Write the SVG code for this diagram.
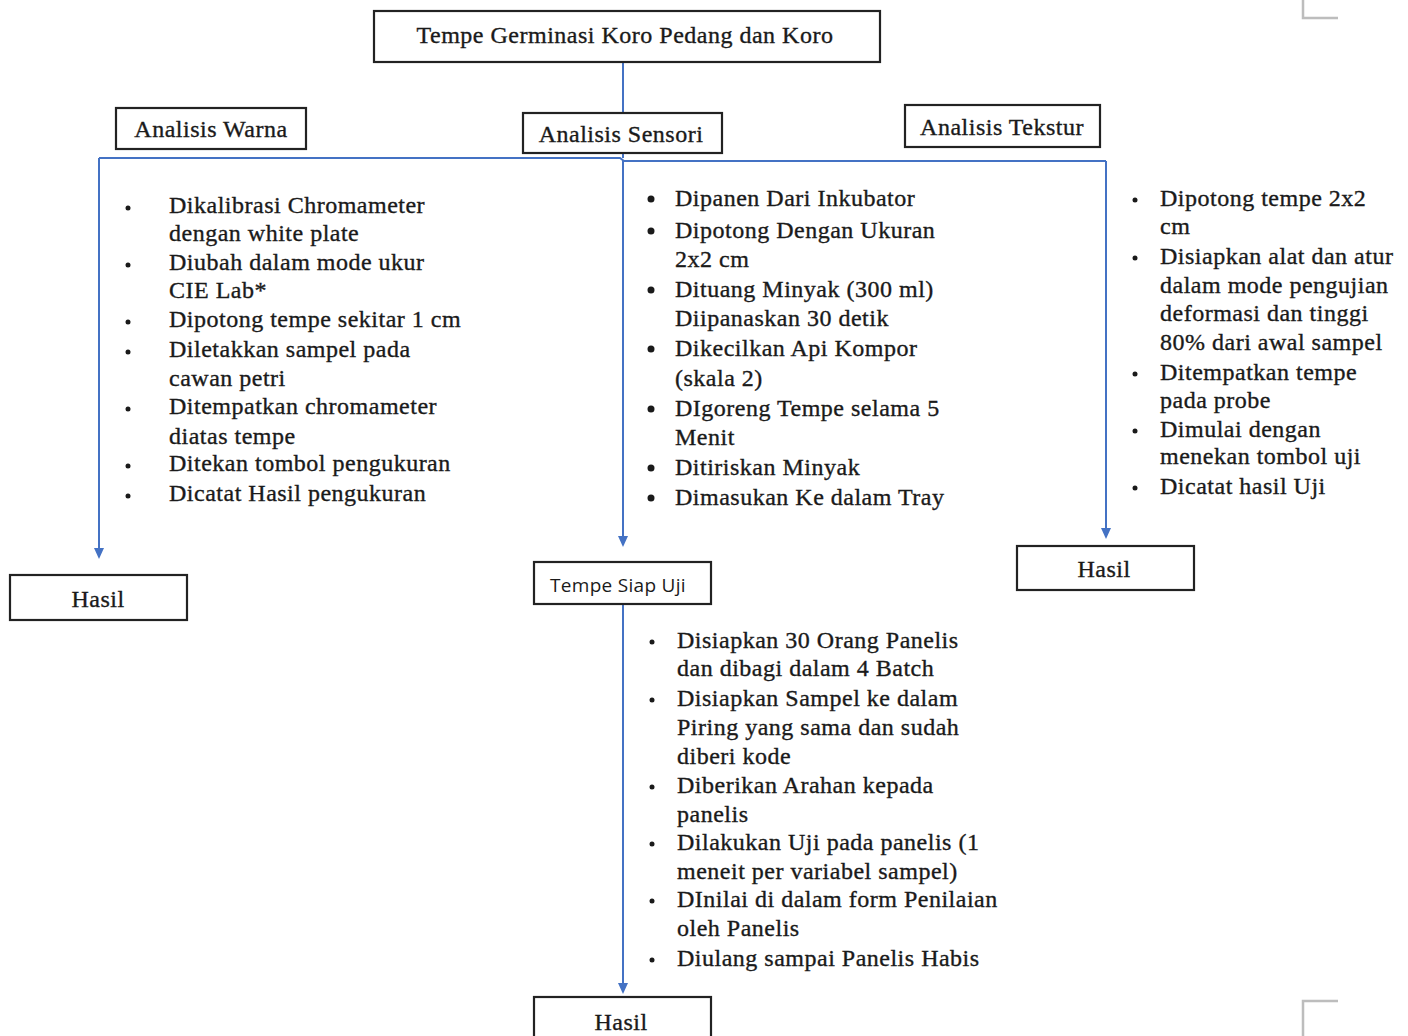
<svg xmlns="http://www.w3.org/2000/svg" width="1408" height="1036" viewBox="0 0 1408 1036">
<style>
.box{fill:#fff;stroke:#222;stroke-width:2.2}
.t{font-family:"Liberation Serif","Times New Roman",serif;font-size:24px;letter-spacing:0.5px;fill:#1a1a1a;stroke:#1a1a1a;stroke-width:0.35}
.lbl{font-family:"Liberation Serif","Times New Roman",serif;font-size:24px;letter-spacing:0.5px;fill:#1a1a1a;stroke:#1a1a1a;stroke-width:0.35;text-anchor:middle}
.sans{font-family:"Open Sans","Noto Sans",sans-serif;font-size:19px;letter-spacing:0.3px;fill:#1a1a1a;text-anchor:middle}
.con{stroke:#4472C4;stroke-width:2;fill:none}
.b{fill:#1a1a1a}
.corner{stroke:#bdbdbd;stroke-width:2.5;fill:none}
</style>
<rect width="1408" height="1036" fill="#fff"/>
<path class="corner" d="M1303,0 V18 H1338"/>
<path class="corner" d="M1303,1036 V1001 H1338"/>
<g id="connectors">
<path class="con" d="M623,62 V158"/>
<path class="con" d="M99,158 H620 L624,161 H1106"/>
<path class="con" d="M99,158 V550"/>
<path class="con" d="M623,160 V538"/>
<path class="con" d="M1106,161 V530"/>
<path class="con" d="M623,604 V985"/>
<path d="M94,548 H104 L99,559 Z" fill="#4472C4"/>
<path d="M618,536 H628 L623,547 Z" fill="#4472C4"/>
<path d="M1101,528 H1111 L1106,539 Z" fill="#4472C4"/>
<path d="M618,983 H628 L623,994 Z" fill="#4472C4"/>
</g>
<g id="node-top">
<rect class="box" x="374" y="11" width="506" height="51"/>
<text class="lbl" x="625" y="43">Tempe Germinasi Koro Pedang dan Koro</text>
</g>
<g id="node-warna">
<rect class="box" x="116" y="108" width="190" height="41"/>
<text class="lbl" x="211" y="137">Analisis Warna</text>
</g>
<g id="node-sensori">
<rect class="box" x="523" y="113" width="199" height="40"/>
<text class="lbl" x="621" y="142">Analisis Sensori</text>
</g>
<g id="node-tekstur">
<rect class="box" x="905" y="105" width="195" height="42"/>
<text class="lbl" x="1002" y="135">Analisis Tekstur</text>
</g>
<g id="node-hasil-left">
<rect class="box" x="10" y="575" width="177" height="45"/>
<text class="lbl" x="98" y="607">Hasil</text>
</g>
<g id="node-siap">
<rect class="box" x="534" y="562" width="177" height="42"/>
<text class="sans" x="618" y="592">Tempe Siap Uji</text>
</g>
<g id="node-hasil-right">
<rect class="box" x="1017" y="546" width="177" height="44"/>
<text class="lbl" x="1104" y="577">Hasil</text>
</g>
<g id="node-hasil-bottom">
<rect class="box" x="534" y="997" width="177" height="45"/>
<text class="lbl" x="621" y="1030">Hasil</text>
</g>
<g id="list-warna">
<circle class="b" cx="128" cy="208" r="2.5"/>
<circle class="b" cx="128" cy="265" r="2.5"/>
<circle class="b" cx="128" cy="322" r="2.5"/>
<circle class="b" cx="128" cy="352" r="2.5"/>
<circle class="b" cx="128" cy="409" r="2.5"/>
<circle class="b" cx="128" cy="466" r="2.5"/>
<circle class="b" cx="128" cy="496" r="2.5"/>
<text class="t" x="169" y="213">Dikalibrasi Chromameter</text>
<text class="t" x="169" y="241">dengan white plate</text>
<text class="t" x="169" y="270">Diubah dalam mode ukur</text>
<text class="t" x="169" y="298">CIE Lab*</text>
<text class="t" x="169" y="327">Dipotong tempe sekitar 1 cm</text>
<text class="t" x="169" y="357">Diletakkan sampel pada</text>
<text class="t" x="169" y="386">cawan petri</text>
<text class="t" x="169" y="414">Ditempatkan chromameter</text>
<text class="t" x="169" y="444">diatas tempe</text>
<text class="t" x="169" y="471">Ditekan tombol pengukuran</text>
<text class="t" x="169" y="501">Dicatat Hasil pengukuran</text>
</g>
<g id="list-sensori">
<circle class="b" cx="651" cy="199" r="3.5"/>
<circle class="b" cx="651" cy="231" r="3.5"/>
<circle class="b" cx="651" cy="290" r="3.5"/>
<circle class="b" cx="651" cy="349" r="3.5"/>
<circle class="b" cx="651" cy="409" r="3.5"/>
<circle class="b" cx="651" cy="468" r="3.5"/>
<circle class="b" cx="651" cy="498" r="3.5"/>
<text class="t" x="675" y="206">Dipanen Dari Inkubator</text>
<text class="t" x="675" y="238">Dipotong Dengan Ukuran</text>
<text class="t" x="675" y="267">2x2 cm</text>
<text class="t" x="675" y="297">Dituang Minyak (300 ml)</text>
<text class="t" x="675" y="326">Diipanaskan 30 detik</text>
<text class="t" x="675" y="356">Dikecilkan Api Kompor</text>
<text class="t" x="675" y="386">(skala 2)</text>
<text class="t" x="675" y="416">DIgoreng Tempe selama 5</text>
<text class="t" x="675" y="445">Menit</text>
<text class="t" x="675" y="475">Ditiriskan Minyak</text>
<text class="t" x="675" y="505">Dimasukan Ke dalam Tray</text>
</g>
<g id="list-tekstur">
<circle class="b" cx="1135" cy="200" r="2.5"/>
<circle class="b" cx="1135" cy="258" r="2.5"/>
<circle class="b" cx="1135" cy="374" r="2.5"/>
<circle class="b" cx="1135" cy="431" r="2.5"/>
<circle class="b" cx="1135" cy="488" r="2.5"/>
<text class="t" x="1160" y="206">Dipotong tempe 2x2</text>
<text class="t" x="1160" y="234">cm</text>
<text class="t" x="1160" y="264">Disiapkan alat dan atur</text>
<text class="t" x="1160" y="293">dalam mode pengujian</text>
<text class="t" x="1160" y="321">deformasi dan tinggi</text>
<text class="t" x="1160" y="350">80% dari awal sampel</text>
<text class="t" x="1160" y="380">Ditempatkan tempe</text>
<text class="t" x="1160" y="408">pada probe</text>
<text class="t" x="1160" y="437">Dimulai dengan</text>
<text class="t" x="1160" y="464">menekan tombol uji</text>
<text class="t" x="1160" y="494">Dicatat hasil Uji</text>
</g>
<g id="list-uji">
<circle class="b" cx="652" cy="642" r="2.5"/>
<circle class="b" cx="652" cy="700" r="2.5"/>
<circle class="b" cx="652" cy="787" r="2.5"/>
<circle class="b" cx="652" cy="844" r="2.5"/>
<circle class="b" cx="652" cy="901" r="2.5"/>
<circle class="b" cx="652" cy="960" r="2.5"/>
<text class="t" x="677" y="648">Disiapkan 30 Orang Panelis</text>
<text class="t" x="677" y="676">dan dibagi dalam 4 Batch</text>
<text class="t" x="677" y="706">Disiapkan Sampel ke dalam</text>
<text class="t" x="677" y="735">Piring yang sama dan sudah</text>
<text class="t" x="677" y="764">diberi kode</text>
<text class="t" x="677" y="793">Diberikan Arahan kepada</text>
<text class="t" x="677" y="822">panelis</text>
<text class="t" x="677" y="850">Dilakukan Uji pada panelis (1</text>
<text class="t" x="677" y="879">meneit per variabel sampel)</text>
<text class="t" x="677" y="907">DInilai di dalam form Penilaian</text>
<text class="t" x="677" y="936">oleh Panelis</text>
<text class="t" x="677" y="966">Diulang sampai Panelis Habis</text>
</g>
</svg>
